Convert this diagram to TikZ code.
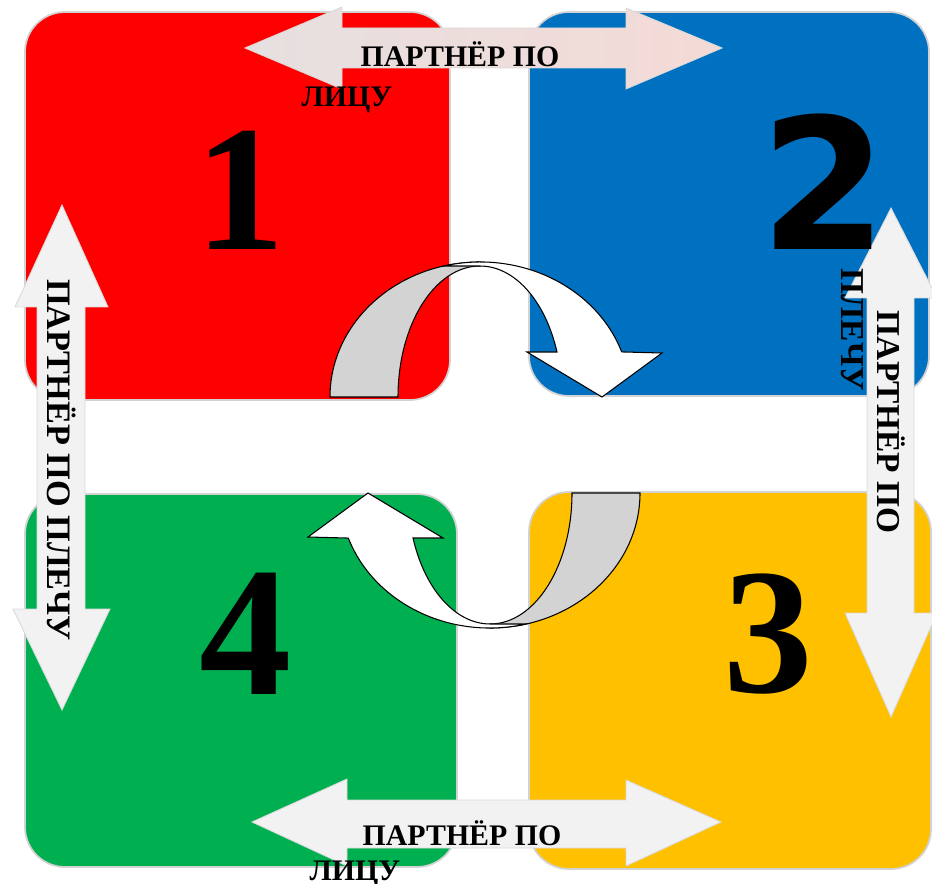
\documentclass[tikz,border=0pt]{standalone}
\usepackage{fontspec}
\setmainfont{Liberation Serif}
\newfontfamily\sansdigit{DejaVu Sans}
\usepackage{xcolor}

\definecolor{boxred}{HTML}{FF0000}
\definecolor{boxblue}{HTML}{0070C0}
\definecolor{boxgreen}{HTML}{00B050}
\definecolor{boxyellow}{HTML}{FFC000}
\definecolor{arrowwhite}{HTML}{F2F2F2}
\definecolor{arrowgrey}{HTML}{E6E0E0}
\definecolor{arrowpink}{HTML}{F4DAD6}
\definecolor{ribbongrey}{HTML}{D3D3D3}

\begin{document}
\begin{tikzpicture}[x=0.02cm, y=-0.02cm,
    panel/.style={draw=gray!35, line width=1pt, rounded corners=0.8cm},
    dblarrow/.style={fill=arrowwhite, draw=gray!30, line width=0.5pt},
    ribbon/.style={draw=black, line width=0.6pt},
    digit/.style={font=\bfseries\fontsize{102}{102}\selectfont, inner sep=0pt, anchor=base},
    partnertext/.style={font=\bfseries\fontsize{17}{17}\selectfont, inner sep=0pt, anchor=base},
    sidetext/.style={font=\bfseries\fontsize{19}{19}\selectfont, inner sep=0pt, anchor=base, rotate=-90}]

    \useasboundingbox (0,0) rectangle (932,884);
    \clip (0,0) rectangle (932,884);

    % Four panels
    \draw[panel, fill=boxred] (25,12) rectangle (450,400);
    \draw[panel, fill=boxblue] (529,12) rectangle (929,396);
    \draw[panel, fill=boxgreen] (25,494) rectangle (457,867);
    \draw[panel, fill=boxyellow] (529,492) rectangle (931,869);

    % Double arrows
    \shade[left color=arrowgrey, right color=arrowpink, draw=gray!30, line width=0.5pt]
        (245,48) -- (342,7) -- (342,28) -- (626,28) -- (626,8) -- (722,48)
        -- (626,89) -- (626,68) -- (342,68) -- (342,89) -- cycle;
    \filldraw[dblarrow] (252,822) -- (347,779) -- (347,800) -- (626,800) -- (626,780) -- (721,822)
        -- (626,866) -- (626,848) -- (347,848) -- (347,866) -- cycle;
    \filldraw[dblarrow] (62,205) -- (108,307) -- (85,307) -- (85,609) -- (110,609) -- (62,710)
        -- (13,609) -- (37,609) -- (37,307) -- (15,307) -- cycle;
    \filldraw[dblarrow] (891,208) -- (937,298) -- (914,298) -- (914,613) -- (937,613) -- (891,717)
        -- (845,613) -- (867,613) -- (867,298) -- (845,298) -- cycle;

    % Curved arrows
    \begin{scope}
        \filldraw[ribbon, fill=ribbongrey] (330,397) arc[start angle=180, end angle=270, x radius=150, y radius=135]
            -- (480,266) arc[start angle=270, end angle=180, x radius=82, y radius=131] -- cycle;
        \filldraw[ribbon, fill=white] (444,266) arc[start angle=256, end angle=340.5, x radius=150, y radius=135]
            -- (662,353) -- (602,397) -- (527,352) -- (557,352)
            arc[start angle=339.9, end angle=270, x radius=82, y radius=131] -- cycle;
    \end{scope}
    \begin{scope}[rotate around={180:(485,445)}]
        \filldraw[ribbon, fill=ribbongrey] (330,397) arc[start angle=180, end angle=270, x radius=150, y radius=135]
            -- (480,266) arc[start angle=270, end angle=180, x radius=82, y radius=131] -- cycle;
        \filldraw[ribbon, fill=white] (444,266) arc[start angle=256, end angle=340.5, x radius=150, y radius=135]
            -- (662,353) -- (602,397) -- (527,352) -- (557,352)
            arc[start angle=339.9, end angle=270, x radius=82, y radius=131] -- cycle;
    \end{scope}

    % Numbers
    \node[digit] (one) at (240,250) {1};
    \node[digit, font=\sansdigit\bfseries\fontsize{104}{104}\selectfont] (two) at (824,250) {2};
    \node[digit] (three) at (768,692) {3};
    \node[digit, font=\bfseries\fontsize{105}{105}\selectfont] (four) at (246,694) {4};

    % Labels
    \node[partnertext] (toplabel) at (460,67) {ПАРТНЁР ПО};
    \node[partnertext] (toplabelb) at (347,107) {ЛИЦУ};
    \node[partnertext] (botlabel) at (462,845) {ПАРТНЁР ПО};
    \node[partnertext] (botlabelb) at (355,880) {ЛИЦУ};
    \node[sidetext, font=\bfseries\fontsize{19.5}{19.5}\selectfont] (leftlabel) at (47,460) {ПАРТНЁР ПО ПЛЕЧУ};
    \node[sidetext] (rightlabel) at (877,422) {ПАРТНЁР ПО};
    \node[sidetext] (rightlabelb) at (841,330) {ПЛЕЧУ};
\end{tikzpicture}
\end{document}
